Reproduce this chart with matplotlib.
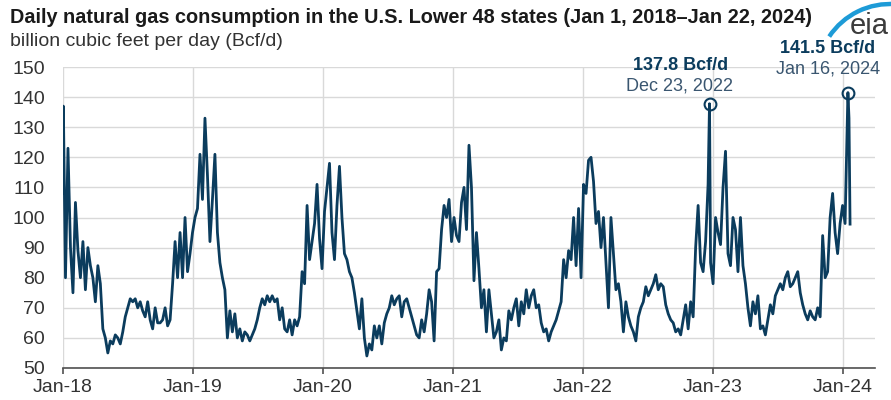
import matplotlib.pyplot as plt
import matplotlib.dates as mdates
import numpy as np
import pandas as pd
from matplotlib.patches import Arc

# Weekly readings (Bcf/d) taken off the chart, starting Mon Jan 1, 2018
cons_2018 = [130, 80, 123, 90, 75, 105, 89, 80, 92, 76,
             90, 84, 80, 72, 84, 78, 63, 60, 55, 59,
             58, 61, 60, 58, 62, 67, 70, 73, 72, 73,
             70, 72, 69, 67, 72, 66, 63, 70, 65, 65,
             66, 70, 64, 66, 78, 92, 80, 95, 80, 100,
             82, 88]
cons_2019 = [95, 100, 103, 121, 106, 133, 114, 92, 106, 121,
             95, 85, 80, 76, 60, 69, 62, 68, 60, 63,
             59, 62, 61, 59, 61, 63, 66, 70, 73, 71,
             74, 72, 74, 72, 73, 66, 70, 63, 62, 66,
             61, 66, 64, 67, 82, 78, 104, 86, 92, 98,
             111, 93]
cons_2020 = [83, 102, 110, 118, 95, 86, 104, 117, 100, 88,
             86, 82, 80, 75, 69, 63, 73, 60, 54, 58,
             56, 64, 60, 64, 58, 65, 68, 70, 74, 71,
             73, 74, 67, 72, 73, 70, 67, 64, 61, 60,
             66, 62, 68, 76, 72, 59, 82, 83, 96, 104,
             100, 106]
cons_2021 = [92, 100, 94, 92, 105, 110, 96, 124, 110, 79,
             95, 83, 70, 76, 62, 76, 68, 60, 62, 66,
             56, 60, 59, 69, 66, 70, 73, 64, 72, 68,
             76, 70, 74, 76, 70, 71, 65, 62, 63, 59,
             62, 64, 66, 69, 72, 86, 80, 89, 86, 100,
             84, 103]
cons_2022 = [80, 111, 108, 119, 120, 112, 98, 102, 90, 100,
             85, 70, 100, 88, 76, 78, 72, 62, 72, 67,
             64, 62, 59, 67, 70, 72, 77, 74, 76, 78,
             81, 76, 78, 77, 71, 68, 66, 65, 62, 63,
             61, 66, 71, 63, 72, 67, 90, 104, 85, 82,
             92, 111]
cons_2023 = [85, 78, 100, 95, 91, 110, 122, 88, 84, 100,
             96, 82, 100, 84, 78, 70, 64, 72, 68, 74,
             63, 64, 61, 66, 71, 68, 74, 76, 78, 76,
             80, 82, 77, 78, 80, 82, 75, 71, 68, 66,
             69, 67, 66, 70, 67, 94, 80, 82, 100, 108,
             95, 88, 98, 104, 98]

# daily points that stand out (first days, peaks, last days)
extra_dates = ["2018-01-02", "2022-12-23", "2024-01-16", "2024-01-19", "2024-01-22"]
extra_values = [137, 137.8, 141.5, 133, 97.8]

peak_dates = ["2022-12-23", "2024-01-16"]
peak_values = [137.8, 141.5]
peak_labels = ["Dec 23, 2022", "Jan 16, 2024"]

weekly = cons_2018 + cons_2019 + cons_2020 + cons_2021 + cons_2022 + cons_2023
s = pd.Series(weekly, index=pd.date_range("2018-01-01", periods=len(weekly), freq="7D"))
s.iloc[0] = 108
s = pd.concat([s, pd.Series(extra_values, index=pd.to_datetime(extra_dates))]).sort_index()

plt.rcParams["font.family"] = ["Liberation Sans", "DejaVu Sans"]
line_color = "#0b3c5d"

fig = plt.figure(figsize=(8.91, 4), dpi=100)
ax = fig.add_axes([0.0707, 0.08, 0.9113, 0.7525])

ax.plot(s.index, s.values, color=line_color, lw=2.0, solid_joinstyle="round")

ax.set_ylim(50, 150)
ax.set_yticks(np.arange(50, 151, 10))
ax.set_xlim(pd.Timestamp("2018-01-01"), pd.Timestamp("2024-04-01"))
ax.xaxis.set_major_locator(mdates.YearLocator())
ax.xaxis.set_major_formatter(mdates.DateFormatter("%b-%y"))

ax.grid(True, color="#d9d9d9", lw=1)
ax.set_axisbelow(True)
for side in ["left", "right", "top"]:
    ax.spines[side].set_visible(False)
ax.spines["bottom"].set_color("#505050")
ax.spines["bottom"].set_linewidth(1.2)
ax.tick_params(axis="y", length=0, pad=13, labelsize=14, labelcolor="#333333")
ax.tick_params(axis="x", length=4, width=1.2, color="#505050", pad=4,
               labelsize=14, labelcolor="#333333")

# peak markers and labels (offsets in pixels from the peak)
bold_offsets = [(-29, 38), (-20, 44)]
date_offsets = [(-30, 18), (-20, 24)]
for d, v, lab, bo, do in zip(peak_dates, peak_values, peak_labels, bold_offsets, date_offsets):
    t = pd.Timestamp(d)
    ax.plot(t, v, "o", ms=8.5, mfc="none", mec=line_color, mew=1.5, clip_on=False)
    ax.annotate(f"{v} Bcf/d", (t, v), xytext=bo, textcoords="offset pixels",
                ha="center", va="center", fontsize=13, fontweight="bold",
                color=line_color, annotation_clip=False)
    ax.annotate(lab, (t, v), xytext=do, textcoords="offset pixels",
                ha="center", va="center", fontsize=13, color="#3a5670",
                annotation_clip=False)

fig.text(10 / 891, 1 - 22.7 / 400,
         "Daily natural gas consumption in the U.S. Lower 48 states (Jan 1, 2018\u2013Jan 22, 2024)",
         fontsize=14.3, fontweight="bold", color="#1a1a1a", va="baseline", ha="left")
fig.text(10 / 891, 1 - 45.7 / 400, "billion cubic feet per day (Bcf/d)",
         fontsize=14, color="#333333", va="baseline", ha="left")

# eia logo: grey letters under a blue swoosh
fig.text(869 / 891, 1 - 34 / 400, "eia", fontsize=21, color="#3c3c3c",
         ha="center", va="baseline")
fig.add_artist(Arc((890 / 891, 1 - 77 / 400), 146 / 891, 146 / 400, theta1=88, theta2=124,
                   transform=fig.transFigure, color="#1d9bd7", lw=3.2))

fig.savefig("out.png", dpi=100)
